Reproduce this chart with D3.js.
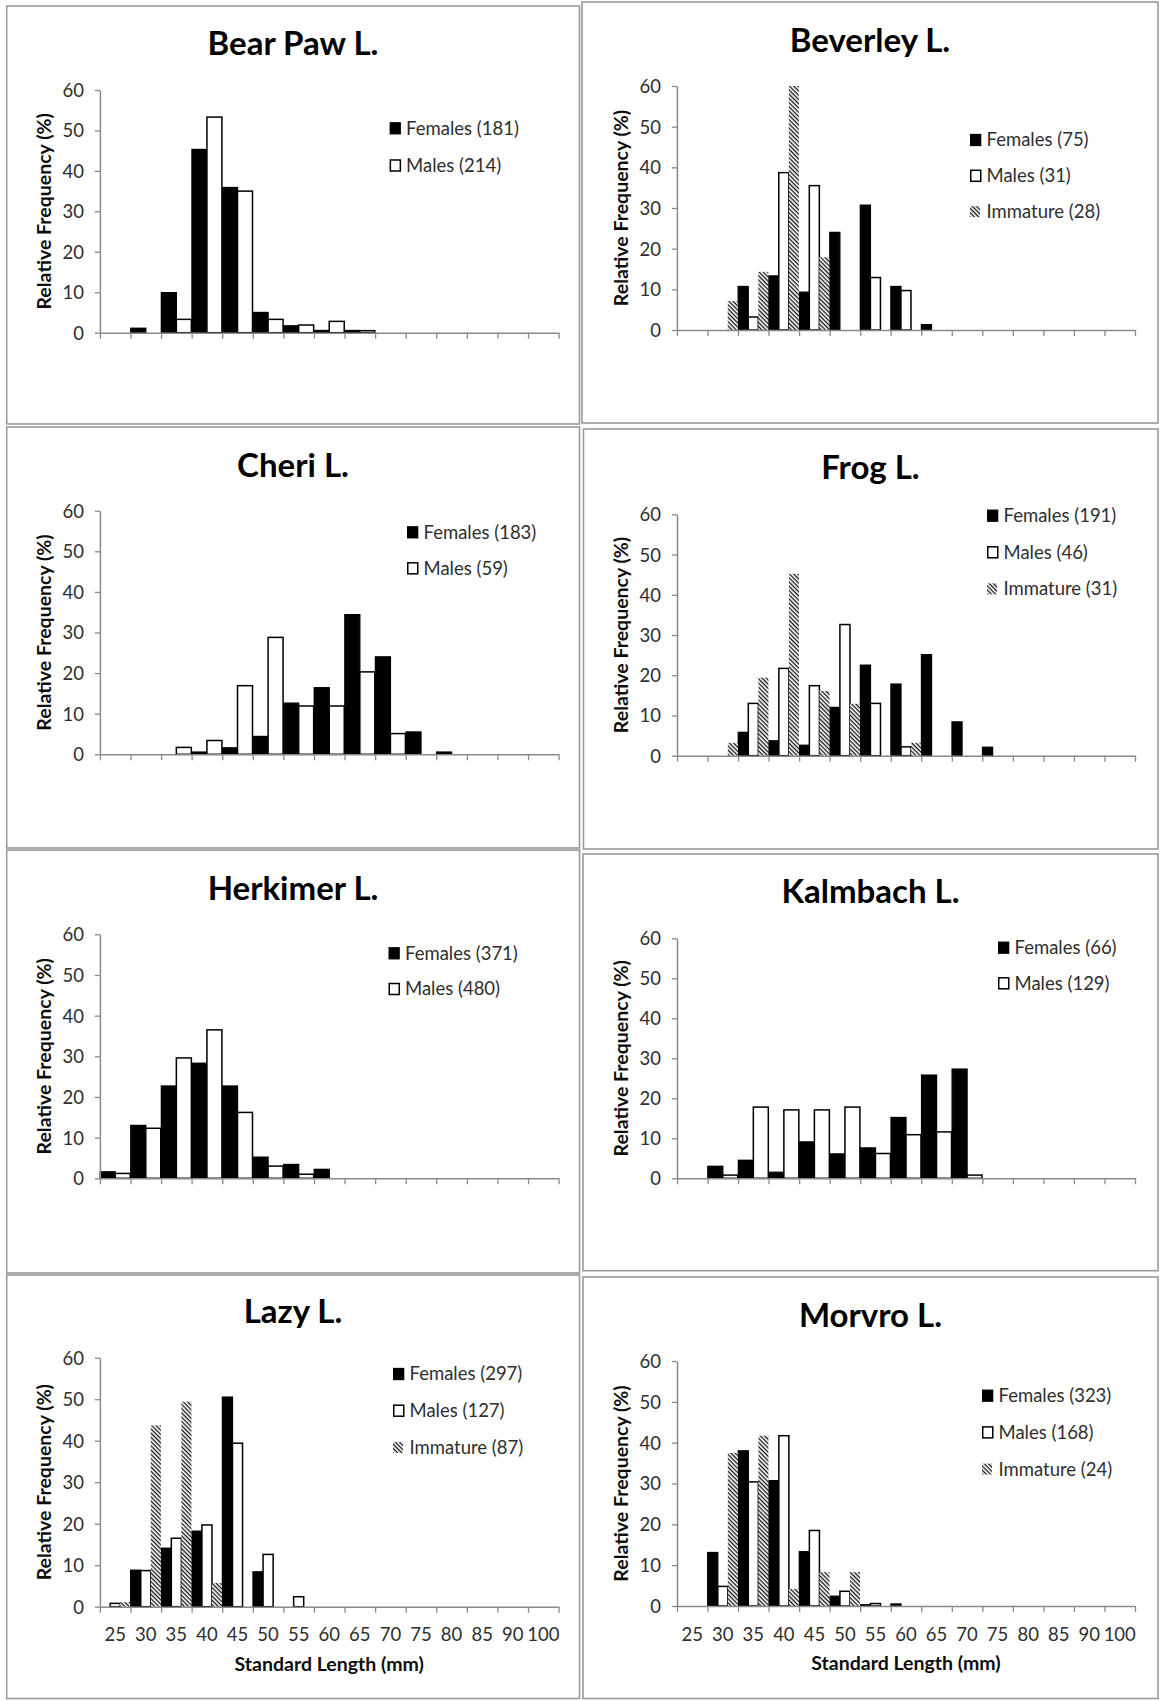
<!DOCTYPE html>
<html>
<head>
<meta charset="utf-8">
<script src="https://cdn.jsdelivr.net/npm/d3@7"></script>
<style>
  html, body { margin: 0; padding: 0; background: #fff; }
  svg { display: block; font-family: Lato, "Open Sans", sans-serif; }
</style>
</head>
<body>
<svg id="chart" width="1160" height="1700"></svg>
<script>
// ---- data ----------------------------------------------------------------
const lengthClasses = ["25","30","35","40","45","50","55","60","65","70","75","80","85","90","100"];
const yTickValues = [0, 10, 20, 30, 40, 50, 60];

const lakeNames = ["Bear Paw L.", "Beverley L.", "Cheri L.", "Frog L.",
                   "Herkimer L.", "Kalmbach L.", "Lazy L.", "Morvro L."];
const femaleCounts   = [181, 75, 183, 191, 371, 66, 297, 323];
const maleCounts     = [214, 31, 59, 46, 480, 129, 127, 168];
const immatureCounts = [null, 28, null, 31, null, null, 87, 24];

// relative frequency (%) in each 5 mm standard-length class
const bearPawFemales   = [0, 1.1, 9.9, 45.3, 35.9, 5.0, 1.7, 0.55, 0.55, 0, 0, 0, 0, 0, 0];
const bearPawMales     = [0, 0, 3.3, 53.3, 35.0, 3.3, 1.9, 2.8, 0.5, 0, 0, 0, 0, 0, 0];

const beverleyFemales  = [0, 0, 10.7, 13.3, 9.3, 24.0, 30.7, 10.7, 1.3, 0, 0, 0, 0, 0, 0];
const beverleyMales    = [0, 0, 3.2, 38.7, 35.5, 0, 12.9, 9.7, 0, 0, 0, 0, 0, 0, 0];
const beverleyImmature = [0, 7.1, 14.3, 60.7, 17.9, 0, 0, 0, 0, 0, 0, 0, 0, 0, 0];

const cheriFemales     = [0, 0, 0, 0.55, 1.6, 4.4, 12.6, 16.4, 34.4, 24.0, 5.5, 0.55, 0, 0, 0];
const cheriMales       = [0, 0, 1.7, 3.4, 16.9, 28.8, 11.9, 11.9, 20.3, 5.1, 0, 0, 0, 0, 0];

const frogFemales      = [0, 0, 5.8, 3.7, 2.6, 12.0, 22.5, 17.8, 25.1, 8.4, 2.1, 0, 0, 0, 0];
const frogMales        = [0, 0, 13.0, 21.7, 17.4, 32.6, 13.0, 2.2, 0, 0, 0, 0, 0, 0, 0];
const frogImmature     = [0, 3.2, 19.4, 45.2, 16.1, 12.9, 0, 3.2, 0, 0, 0, 0, 0, 0, 0];

const herkimerFemales  = [1.6, 13.0, 22.7, 28.3, 22.7, 5.2, 3.4, 2.2, 0, 0, 0, 0, 0, 0, 0];
const herkimerMales    = [1.2, 12.3, 29.6, 36.5, 16.2, 3.0, 1.0, 0, 0, 0, 0, 0, 0, 0, 0];

const kalmbachFemales  = [0, 3.0, 4.5, 1.5, 9.1, 6.1, 7.6, 15.2, 25.8, 27.3, 0, 0, 0, 0, 0];
const kalmbachMales    = [0, 0.8, 17.8, 17.1, 17.1, 17.8, 6.2, 10.9, 11.6, 0.8, 0, 0, 0, 0, 0];

const lazyFemales      = [0, 8.8, 14.1, 18.2, 50.5, 8.4, 0, 0, 0, 0, 0, 0, 0, 0, 0];
const lazyMales        = [0.8, 8.7, 16.5, 19.7, 39.4, 12.6, 2.4, 0, 0, 0, 0, 0, 0, 0, 0];
const lazyImmature     = [1.1, 43.7, 49.4, 5.7, 0, 0, 0, 0, 0, 0, 0, 0, 0, 0, 0];

const morvroFemales    = [0, 13.1, 38.0, 30.7, 13.3, 2.4, 0.3, 0.5, 0, 0, 0, 0, 0, 0, 0];
const morvroMales      = [0, 4.8, 30.4, 41.7, 18.5, 3.6, 0.6, 0, 0, 0, 0, 0, 0, 0, 0];
const morvroImmature   = [0, 37.5, 41.7, 4.2, 8.3, 8.3, 0, 0, 0, 0, 0, 0, 0, 0, 0];

const lakeSeries = [
  { F: bearPawFemales,  M: bearPawMales },
  { F: beverleyFemales, M: beverleyMales, I: beverleyImmature },
  { F: cheriFemales,    M: cheriMales },
  { F: frogFemales,     M: frogMales,     I: frogImmature },
  { F: herkimerFemales, M: herkimerMales },
  { F: kalmbachFemales, M: kalmbachMales },
  { F: lazyFemales,     M: lazyMales,     I: lazyImmature },
  { F: morvroFemales,   M: morvroMales,   I: morvroImmature }
];

// ---- panel layout (frame box, plot box [x0, x1, yTop, yBottom], title, legend) ----
const panelLayout = [
  { frame: [6.7, 6, 579.5, 424],     plot: [99.9, 558.6, 90, 332.7],     title: [293, 55],       legend: [389.6, 128.3, 37.2] },
  { frame: [582, 2, 1158, 423],      plot: [676.9, 1135, 86, 330],       title: [870, 51.7],     legend: [970, 140, 35.8] },
  { frame: [6.7, 427, 579.5, 848],   plot: [99.9, 558.6, 510.7, 754.3],  title: [293, 476.7],    legend: [407, 532.3, 36] },
  { frame: [583.5, 429, 1158, 849],  plot: [677, 1135, 514.3, 755.7],    title: [870.5, 479.3],  legend: [987, 515.7, 36.6] },
  { frame: [6.7, 850, 579.5, 1273],  plot: [99.9, 558.6, 934.3, 1178.3], title: [293, 900],      legend: [388.5, 953.3, 35.7] },
  { frame: [583, 854, 1158, 1270.7], plot: [677, 1135, 938.3, 1178.3],   title: [870.5, 903.3],  legend: [998, 947.7, 35.6] },
  { frame: [6.7, 1275, 579.5, 1698.5], plot: [99.9, 558.6, 1357.7, 1606.7], title: [293, 1323.3], legend: [393, 1374, 36.7] },
  { frame: [583, 1277, 1158, 1698.5],  plot: [677, 1135, 1361, 1606],     title: [870.5, 1326.7], legend: [982, 1395.7, 36.7] }
];
const bottomRow = [6, 7];

// ---- styles ----
const axisGrey = "#8a8a8a";
const textGrey = "#2e2e2e";
const seriesStyle = {
  F: { fill: "#000", stroke: "#000", width: 1.3 },
  M: { fill: "#fff", stroke: "#000", width: 1.5 },
  I: { fill: "url(#hatch)", stroke: "none", width: 0 }
};

const svg = d3.select("#chart");
svg.append("rect").attr("width", 1160).attr("height", 1700).attr("fill", "#fff");

// diagonal hatch used for immature fish
const defs = svg.append("defs");
const hatch = defs.append("pattern")
  .attr("id", "hatch")
  .attr("patternUnits", "userSpaceOnUse")
  .attr("width", 4).attr("height", 3)
  .attr("patternTransform", "rotate(45)");
hatch.append("rect").attr("width", 4).attr("height", 3).attr("fill", "#fff");
hatch.append("rect").attr("width", 4).attr("height", 1.3).attr("fill", "#151515");

panelLayout.forEach((p, i) => {
  const g = svg.append("g").attr("class", "panel");
  const [x0, x1, yTop, yBot] = p.plot;
  const data = lakeSeries[i];
  const keys = data.I ? ["F", "M", "I"] : ["F", "M"];

  // frame
  g.append("rect")
    .attr("x", p.frame[0]).attr("y", p.frame[1])
    .attr("width", p.frame[2] - p.frame[0]).attr("height", p.frame[3] - p.frame[1])
    .attr("fill", "none").attr("stroke", "#9a9a9a").attr("stroke-width", 1.6);

  // scales
  const x = d3.scaleBand().domain(lengthClasses).range([x0, x1]).paddingInner(0).paddingOuter(0);
  const sub = d3.scaleBand().domain(keys).range([0, x.bandwidth()]).paddingInner(0).paddingOuter(0.02);
  const y = d3.scaleLinear().domain([0, 60]).range([yBot, yTop]).clamp(true);
  const edge = d3.scaleLinear().domain([0, lengthClasses.length]).range([x0, x1]);

  // bars
  keys.forEach(k => {
    const st = seriesStyle[k];
    const rows = data[k].map((v, j) => ({ cls: lengthClasses[j], v })).filter(d => d.v > 0);
    g.append("g").selectAll("rect").data(rows).join("rect")
      .attr("x", d => x(d.cls) + sub(k))
      .attr("width", sub.bandwidth())
      .attr("y", d => y(d.v))
      .attr("height", d => y(0) - y(d.v))
      .attr("fill", st.fill)
      .attr("stroke", st.stroke)
      .attr("stroke-width", st.width);
  });

  // y axis
  const ya = g.append("g").attr("transform", `translate(${x0},0)`)
    .call(d3.axisLeft(y).tickValues(yTickValues).tickSize(5).tickSizeOuter(0).tickPadding(11));
  ya.attr("font-family", null).attr("font-size", null);
  ya.select(".domain").attr("stroke", axisGrey).attr("stroke-width", 1.5);
  ya.selectAll(".tick line").attr("stroke", axisGrey).attr("stroke-width", 1.3);
  ya.selectAll(".tick text").attr("fill", textGrey).attr("font-size", 18.5).attr("dy", "0.35em");

  // x axis: tick marks between classes
  const xa = g.append("g").attr("transform", `translate(0,${yBot})`)
    .call(d3.axisBottom(edge).tickValues(d3.range(lengthClasses.length + 1)).tickSize(6).tickSizeOuter(0).tickFormat(""));
  xa.attr("font-family", null).attr("font-size", null);
  xa.select(".domain").attr("stroke", axisGrey).attr("stroke-width", 1.5);
  xa.selectAll(".tick line").attr("stroke", axisGrey).attr("stroke-width", 1.3);

  if (bottomRow.includes(i)) {
    const xl = g.append("g").attr("transform", `translate(0,${yBot})`)
      .call(d3.axisBottom(x).tickSize(0).tickPadding(21.5));
    xl.attr("font-family", null).attr("font-size", null);
    xl.select(".domain").remove();
    xl.selectAll(".tick text").attr("fill", textGrey).attr("font-size", 18.5);

    g.append("text")
      .attr("x", (x0 + x1) / 2).attr("y", yBot + 64)
      .attr("text-anchor", "middle")
      .attr("font-size", 19.5).attr("font-weight", 700).attr("fill", "#0d0d0d")
      .text("Standard Length (mm)");
  }

  // y axis title
  g.append("text")
    .attr("transform", `translate(${x0 - 55.5},${(yTop + yBot) / 2}) rotate(-90)`)
    .attr("text-anchor", "middle").attr("dy", "0.35em")
    .attr("font-size", 19.5).attr("font-weight", 700).attr("fill", "#0d0d0d")
    .text("Relative Frequency (%)");

  // title
  g.append("text")
    .attr("x", p.title[0]).attr("y", p.title[1])
    .attr("text-anchor", "middle")
    .attr("font-size", 33).attr("font-weight", 700).attr("fill", "#000")
    .text(lakeNames[i]);

  // legend
  const labels = {
    F: `Females (${femaleCounts[i]})`,
    M: `Males (${maleCounts[i]})`,
    I: `Immature (${immatureCounts[i]})`
  };
  const [lx, ly, ls] = p.legend;
  const lg = g.append("g").selectAll("g").data(keys).join("g")
    .attr("transform", (k, j) => `translate(${lx},${ly + j * ls})`);
  lg.append("rect")
    .attr("x", k => seriesStyle[k].width / 2).attr("y", -5.5)
    .attr("width", 11 - 1).attr("height", 11)
    .attr("fill", k => seriesStyle[k].fill)
    .attr("stroke", k => seriesStyle[k].stroke)
    .attr("stroke-width", k => seriesStyle[k].width);
  lg.append("text")
    .attr("x", 16.5).attr("dy", "0.35em")
    .attr("font-size", 18.5).attr("fill", textGrey)
    .text(k => labels[k]);
});
</script>
</body>
</html>
